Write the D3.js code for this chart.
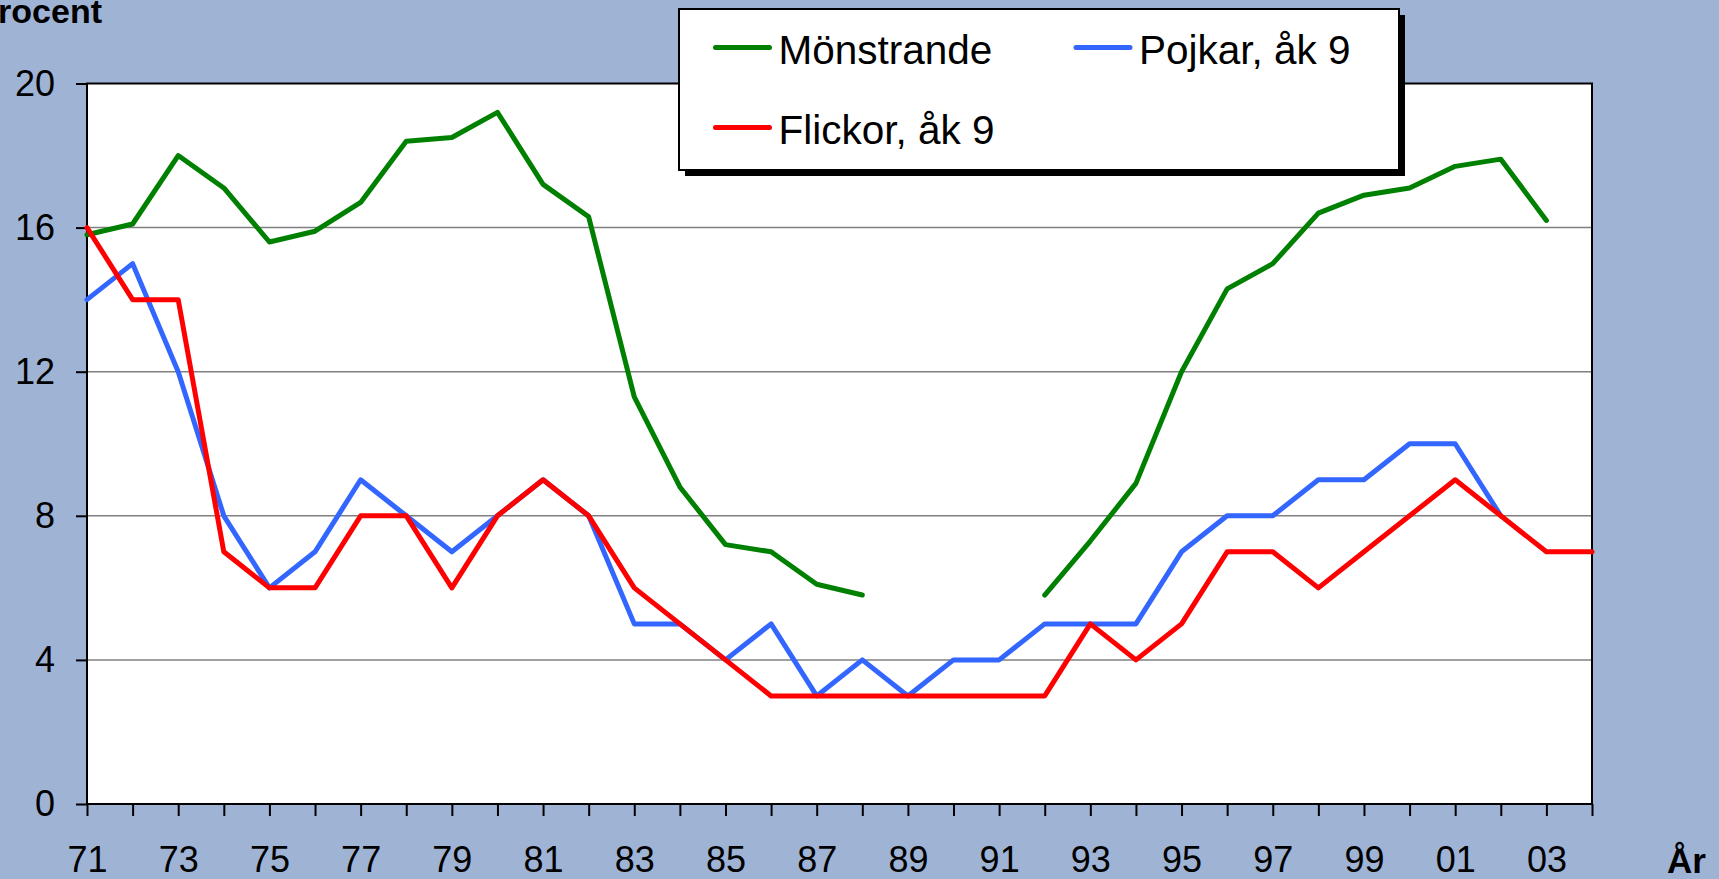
<!DOCTYPE html>
<html>
<head>
<meta charset="utf-8">
<script src="https://cdn.jsdelivr.net/npm/d3@7"></script>
<style>
  html, body { margin: 0; padding: 0; background: #9fb3d5; }
  svg { display: block; font-family: "Liberation Sans", Arial, sans-serif; }
</style>
</head>
<body>
<div id="container"></div>
<script>
const width = 1719;
const height = 879;

// plot area
const margin = { top: 83.5, right: 127, bottom: 75, left: 87 };
const innerW = width - margin.left - margin.right;
const innerH = height - margin.top - margin.bottom;

// Data
const years = [
  1971, 1972, 1973, 1974, 1975, 1976, 1977, 1978, 1979, 1980, 1981, 1982,
  1983, 1984, 1985, 1986, 1987, 1988, 1989, 1990, 1991, 1992, 1993, 1994,
  1995, 1996, 1997, 1998, 1999, 2000, 2001, 2002, 2003, 2004,
];
const monstrande = [
  15.8, 16.1, 18.0, 17.1, 15.6, 15.9, 16.7, 18.4, 18.5, 19.2, 17.2, 16.3,
  11.3, 8.8, 7.2, 7.0, 6.1, 5.8, null, null, null, 5.8, 7.3, 8.9,
  12.0, 14.3, 15.0, 16.4, 16.9, 17.1, 17.7, 17.9, 16.2, null,
];
const pojkar = [
  14, 15, 12, 8, 6, 7, 9, 8, 7, 8, 9, 8,
  5, 5, 4, 5, 3, 4, 3, 4, 4, 5, 5, 5,
  7, 8, 8, 9, 9, 10, 10, 8, null, null,
];
const flickor = [
  16, 14, 14, 7, 6, 6, 8, 8, 6, 8, 9, 8,
  6, 5, 4, 3, 3, 3, 3, 3, 3, 3, 5, 4,
  5, 7, 7, 6, 7, 8, 9, 8, 7, 7,
];
const yTicks = [0, 4, 8, 12, 16, 20];

const series = [
  { name: "Mönstrande", values: monstrande, colour: "#008000" },
  { name: "Pojkar, åk 9", values: pojkar, colour: "#3366ff" },
  { name: "Flickor, åk 9", values: flickor, colour: "#ff0000" },
];

const svg = d3
  .select("#container")
  .append("svg")
  .attr("width", width)
  .attr("height", height);

svg.append("rect").attr("width", width).attr("height", height).attr("fill", "#9fb3d5");

const g = svg
  .append("g")
  .attr("transform", `translate(${margin.left},${margin.top})`);

const xScale = d3.scaleLinear().domain([1971, 2004]).range([0, innerW]);
const yScale = d3.scaleLinear().domain([0, 20]).range([innerH, 0]);

// plot background
g.append("rect")
  .attr("width", innerW)
  .attr("height", innerH)
  .attr("fill", "#fff");

// gridlines
g.selectAll(".grid")
  .data(yTicks.filter((t) => t > 0 && t < 20))
  .enter()
  .append("line")
  .attr("x1", 0)
  .attr("x2", innerW)
  .attr("y1", (d) => yScale(d))
  .attr("y2", (d) => yScale(d))
  .attr("stroke", "#808080")
  .attr("stroke-width", 1.5);

// axes
const yAxis = g
  .append("g")
  .call(d3.axisLeft(yScale).tickValues(yTicks).tickSize(11).tickPadding(21));

const xAxis = g
  .append("g")
  .attr("transform", `translate(0,${innerH})`)
  .call(
    d3
      .axisBottom(xScale)
      .tickValues(years)
      .tickSize(12)
      .tickPadding(30)
      .tickFormat((d) => (d % 2 === 1 ? String(d % 100).padStart(2, "0") : ""))
  );

[yAxis, xAxis].forEach((ax) => {
  ax.select(".domain").remove();
  ax.selectAll("line").attr("stroke", "#000").attr("stroke-width", 2);
  ax.selectAll("text").attr("fill", "#000").style("font-size", "36px");
});

// plot frame
g.append("rect")
  .attr("width", innerW)
  .attr("height", innerH)
  .attr("fill", "none")
  .attr("stroke", "#000")
  .attr("stroke-width", 2);

// lines
const line = d3
  .line()
  .defined((d) => d.v != null)
  .x((d) => xScale(d.year))
  .y((d) => yScale(d.v));

series.forEach((s) => {
  g.append("path")
    .datum(years.map((year, i) => ({ year, v: s.values[i] })))
    .attr("d", line)
    .attr("fill", "none")
    .attr("stroke", s.colour)
    .attr("stroke-width", 5)
    .attr("stroke-linejoin", "round")
    .attr("stroke-linecap", "round");
});

// axis titles (the reference crops the "P" at the left edge)
svg.append("text")
  .attr("x", 102)
  .attr("y", 23)
  .attr("text-anchor", "end")
  .style("font-size", "34px")
  .style("font-weight", "bold")
  .text("Procent");

svg.append("text")
  .attr("x", 1667)
  .attr("y", 873)
  .style("font-size", "35px")
  .style("font-weight", "bold")
  .text("År");

// legend
const legend = svg.append("g").attr("transform", "translate(679,9)");
legend.append("rect")
  .attr("x", 6).attr("y", 6)
  .attr("width", 720).attr("height", 161)
  .attr("fill", "#000");
legend.append("rect")
  .attr("width", 720).attr("height", 161)
  .attr("fill", "#fff")
  .attr("stroke", "#000")
  .attr("stroke-width", 2);

const legendPos = [
  { x: 36.5, y: 38.5 },
  { x: 397, y: 38.5 },
  { x: 36.5, y: 118.5 },
];

series.forEach((s, i) => {
  const p = legendPos[i];
  const item = legend.append("g").attr("transform", `translate(${p.x},${p.y})`);
  item.append("line")
    .attr("x1", 0).attr("x2", 54)
    .attr("stroke", s.colour)
    .attr("stroke-width", 5)
    .attr("stroke-linecap", "round");
  item.append("text")
    .attr("x", 63)
    .attr("dy", "0.4em")
    .style("font-size", "40.5px")
    .text(s.name);
});
</script>
</body>
</html>
